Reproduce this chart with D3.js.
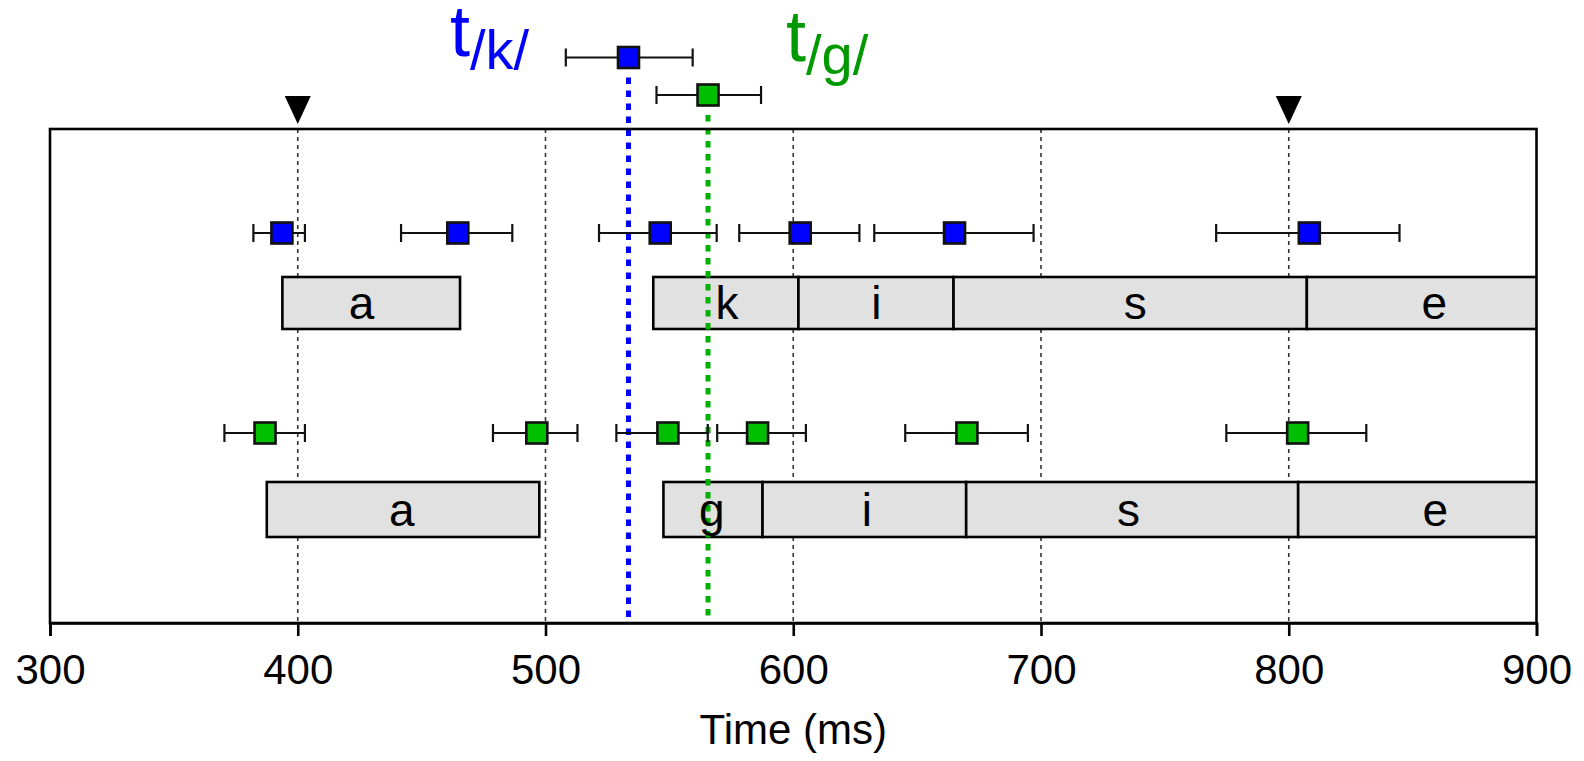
<!DOCTYPE html>
<html>
<head>
<meta charset="utf-8">
<script src="https://cdn.jsdelivr.net/npm/d3@7"></script>
<style>
body { margin: 0; background: #fff; }
text { font-family: "Liberation Sans", Arial, sans-serif; }
</style>
</head>
<body>
<svg id="chart" width="1584" height="761"></svg>
<script>
// tick values and reference markers (ms)
var xTicks = [300, 400, 500, 600, 700, 800, 900];
var gridTimes = [400, 500, 600, 700, 800];
var markerTimes = [400, 800];

// /k/ row : points with error bars
var kTimes = [393.6, 464.6, 546.3, 602.8, 665.1, 808.3];
var kLo    = [382.1, 441.7, 521.6, 578.2, 632.7, 770.7];
var kHi    = [402.9, 486.6, 569.1, 626.7, 697.0, 844.7];
// /k/ row : segments
var kSegLabels = ["a", "k", "i", "s", "e"];
var kSegStart  = [393.8, 543.5, 602.1, 664.7, 807.3];
var kSegEnd    = [465.5, 602.1, 664.7, 807.3, 910];
var kLabelAt   = [425.8, 573.3, 633.5, 738.0, 858.7];

// /g/ row : points with error bars
var gTimes = [386.8, 496.5, 549.4, 585.6, 670.1, 803.6];
var gLo    = [370.4, 478.8, 528.6, 569.3, 645.2, 774.8];
var gHi    = [402.9, 512.9, 565.5, 605.1, 694.7, 831.3];
// /g/ row : segments
var gSegLabels = ["a", "g", "i", "s", "e"];
var gSegStart  = [387.5, 547.6, 587.6, 669.8, 803.8];
var gSegEnd    = [497.5, 587.6, 669.8, 803.8, 914];
var gLabelAt   = [442.0, 567.1, 629.7, 735.3, 859.2];

// estimated onset times shown above the frame
var onsetNames = ["k", "g"];
var onsetTimes = [533.5, 565.6];
var onsetLo    = [508.2, 544.8];
var onsetHi    = [559.4, 587.0];

var svg = d3.select("#chart");
var plotLeft = 50, plotRight = 1536.5, plotTop = 129, plotBottom = 623;

var x = d3.scaleLinear().domain([300, 900]).range([plotLeft, plotRight]);

var blue = "#0000ff", green = "#00bf00", greenText = "#009a00";

svg.append("defs").append("clipPath").attr("id", "plotclip")
  .append("rect").attr("x", plotLeft).attr("y", plotTop)
  .attr("width", plotRight - plotLeft).attr("height", plotBottom - plotTop);

// dashed grid lines
svg.append("g").selectAll("line")
  .data(gridTimes)
  .enter().append("line")
  .attr("x1", d => x(d)).attr("x2", d => x(d))
  .attr("y1", plotTop).attr("y2", plotBottom)
  .attr("stroke", "#333")
  .attr("stroke-width", 1.6)
  .attr("stroke-dasharray", "4,4");

// triangle markers above the frame
svg.append("g").selectAll("path")
  .data(markerTimes)
  .enter().append("path")
  .attr("d", d => "M" + (x(d) - 13) + ",96 L" + (x(d) + 13) + ",96 L" + x(d) + ",124 Z")
  .attr("fill", "#000");

function drawSegments(starts, ends, y0, h) {
  var segs = starts.map((s, i) => ({ s: s, e: ends[i] }));
  svg.append("g").attr("clip-path", "url(#plotclip)")
    .selectAll("rect")
    .data(segs)
    .enter().append("rect")
    .attr("x", d => x(d.s))
    .attr("y", y0)
    .attr("width", d => x(d.e) - x(d.s))
    .attr("height", h)
    .attr("fill", "#e1e1e1")
    .attr("stroke", "#000")
    .attr("stroke-width", 2.6);
}

function drawLabels(labels, at, y0, h) {
  svg.append("g").selectAll("text")
    .data(labels)
    .enter().append("text")
    .attr("x", (d, i) => x(at[i]))
    .attr("y", y0 + h / 2 + 16)
    .attr("text-anchor", "middle")
    .attr("font-size", 46)
    .text(d => d);
}

function drawPoints(times, lo, hi, y, fill) {
  var pts = times.map((t, i) => ({ t: t, lo: lo[i], hi: hi[i] }));
  var g = svg.append("g");
  g.selectAll("line.bar").data(pts).enter().append("line")
    .attr("x1", d => x(d.lo)).attr("x2", d => x(d.hi))
    .attr("y1", y).attr("y2", y)
    .attr("stroke", "#111").attr("stroke-width", 2);
  g.selectAll("line.lcap").data(pts).enter().append("line")
    .attr("x1", d => x(d.lo)).attr("x2", d => x(d.lo))
    .attr("y1", y - 9).attr("y2", y + 9)
    .attr("stroke", "#111").attr("stroke-width", 2.2);
  g.selectAll("line.rcap").data(pts).enter().append("line")
    .attr("x1", d => x(d.hi)).attr("x2", d => x(d.hi))
    .attr("y1", y - 9).attr("y2", y + 9)
    .attr("stroke", "#111").attr("stroke-width", 2.2);
  g.selectAll("rect").data(pts).enter().append("rect")
    .attr("x", d => x(d.t) - 10.5).attr("y", y - 10.5)
    .attr("width", 21).attr("height", 21)
    .attr("fill", fill)
    .attr("stroke", "#111").attr("stroke-width", 2.6);
}

drawSegments(kSegStart, kSegEnd, 277, 52);
drawSegments(gSegStart, gSegEnd, 482, 55);

// onset dotted lines
var onsetY = [57.5, 95];
var onsetColor = [blue, "#00b000"];
svg.append("g").selectAll("line")
  .data(onsetTimes)
  .enter().append("line")
  .attr("x1", d => x(d)).attr("x2", d => x(d))
  .attr("y1", (d, i) => onsetY[i] + 20)
  .attr("y2", plotBottom)
  .attr("stroke", (d, i) => onsetColor[i])
  .attr("stroke-width", 5)
  .attr("stroke-dasharray", "6.5,6.5");

drawLabels(kSegLabels, kLabelAt, 277, 52);
drawLabels(gSegLabels, gLabelAt, 482, 55);

drawPoints(kTimes, kLo, kHi, 233, blue);
drawPoints(gTimes, gLo, gHi, 433, green);

// top onset estimates
drawPoints([onsetTimes[0]], [onsetLo[0]], [onsetHi[0]], onsetY[0], blue);
drawPoints([onsetTimes[1]], [onsetLo[1]], [onsetHi[1]], onsetY[1], green);

// onset labels t/k/ and t/g/
var labelPos = [[450, 56], [786, 61]];
var labelColor = [blue, greenText];
onsetNames.forEach(function (n, i) {
  var t = svg.append("text")
    .attr("x", labelPos[i][0]).attr("y", labelPos[i][1])
    .attr("fill", labelColor[i]);
  t.append("tspan").attr("font-size", 72).text("t");
  t.append("tspan").attr("font-size", 56).attr("dy", 13).text("/" + n + "/");
});

// frame
svg.append("rect")
  .attr("x", plotLeft).attr("y", plotTop)
  .attr("width", plotRight - plotLeft).attr("height", plotBottom - plotTop)
  .attr("fill", "none")
  .attr("stroke", "#000")
  .attr("stroke-width", 2.6);

// x axis
var xAxis = svg.append("g")
  .attr("transform", "translate(0," + plotBottom + ")")
  .call(d3.axisBottom(x).tickValues(xTicks).tickSize(13).tickPadding(18).tickFormat(d3.format("d")));
xAxis.select(".domain").attr("stroke-width", 2.6);
xAxis.selectAll(".tick line").attr("stroke-width", 2.6);
xAxis.selectAll(".tick text")
  .attr("font-size", 42)
  .attr("font-family", "Liberation Sans, Arial, sans-serif")
  .attr("fill", "#000");

svg.append("text")
  .attr("x", (plotLeft + plotRight) / 2)
  .attr("y", 744)
  .attr("text-anchor", "middle")
  .attr("font-size", 42)
  .text("Time (ms)");
</script>
</body>
</html>
